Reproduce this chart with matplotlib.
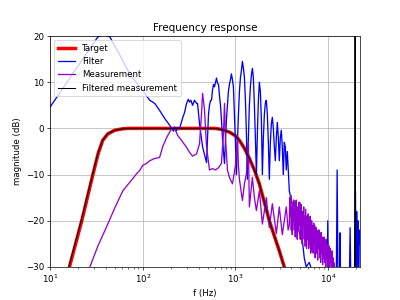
import matplotlib
matplotlib.use("Agg")
from matplotlib import pyplot as plt

# Target response
target_f = [10, 13, 16.2, 22, 29, 33, 37, 42, 50, 60, 70, 600, 700, 861, 1000, 1104,
            1250, 1413, 1600, 1811, 2050, 2321, 2650, 2973, 3365, 4000, 5000, 10000, 22050]
target_db = [-55, -43, -30, -20, -10, -5.5, -2.6, -1.2, -0.4, -0.1, 0, 0, -0.2, -0.8, -1.6, -2.6,
             -4.3, -6.5, -9, -12, -16, -20, -23.5, -26.5, -30, -36, -44, -70, -100]

# Filter
filter_f = [10, 32.8, 38, 44.2, 50, 56.6, 67, 78, 93, 100,
            110, 119, 135, 152, 172, 195, 205, 215, 221, 232,
            238, 250, 269, 283, 297, 310, 320, 330, 345, 362,
            381, 390, 410, 442, 488, 500, 512, 525, 538, 552,
            566, 580, 594, 610, 625, 640, 657, 673, 690, 706,
            724, 743, 762, 780, 800, 820, 840, 861, 883, 905,
            929, 951, 975, 1000, 1025, 1051, 1077, 1104, 1132, 1160,
            1189, 1220, 1250, 1282, 1313, 1346, 1380, 1413, 1450, 1486,
            1523, 1561, 1601, 1641, 1683, 1725, 1768, 1811, 1857, 1904,
            1952, 2001, 2051, 2103, 2155, 2209, 2265, 2321, 2380, 2439,
            2500, 2563, 2627, 2693, 2761, 2830, 2901, 2973, 3048, 3124,
            3202, 3282, 3365, 3450, 3535, 3624, 3715, 3808, 3950, 4101,
            4310, 4529, 4878, 5253, 5520, 5800, 6250, 6730, 7248, 8003,
            9056, 9752, 9900, 10100, 12190, 12500, 12810, 13300, 13460, 13650,
            16820, 17250, 17680, 19040, 19700, 20010, 20300, 20600, 21000, 21300,
            21700, 22050]
filter_db = [4.6, 19.8, 20.3, 19.8, 17.8, 15.9, 13, 11, 8.9, 8.3,
             7, 6.1, 5.4, 3.9, 2.2, 0.7, 0, -0.6, 0.3, -0.5,
             0.2, 0, 2.2, 3.5, 5.4, 6.3, 5.7, 6.1, 5, 6.1,
             5.4, 5.4, 1, -4, -7.4, -2, 3, 5, 6, 6.1,
             8.3, 9.5, 9, 10, 10.9, 9.8, 9.5, 7, 5, 2,
             -2, -5, -7.6, -3, 2, 5, 8, 9.5, 10.5, 11.8,
             10.5, 9, 3, -3, -10, -3, 3, 8, 11, 12.5,
             14.5, 13, 11, 6, -1, -11, -2, 5, 9, 11.5,
             13, 11, 5, -2, -10, -1, 6, 10, 8, 2,
             -10, -2, 3, 5.5, 6.1, 3, -3, -11, -3, 1,
             2.4, 0, -4, -7, -2, 1.3, -2, -7, -2, -0.4,
             -4, -10, -3, -4, -9, -5, -9, -13.5, -15, -16.3,
             -18, -19.3, -22.5, -24, -28, -30, -29, -31, -35, -35,
             -38, -38, -20, -38, -38, -9, -38, -38, -22.6, -38,
             -38, -21.5, -38, -38, -13.5, -38, -18, -38, -20, -38,
             -22, -25]

# Measurement
meas_f = [10, 21, 26.9, 32.8, 42, 50, 61, 75, 86, 93,
          100, 110, 119, 135, 152, 164, 181, 205, 221, 238,
          262, 297, 320, 345, 381, 410, 431, 442, 464, 488,
          525, 566, 610, 657, 706, 743, 762, 780, 820, 861,
          929, 1000, 1051, 1077, 1104, 1189, 1250, 1313, 1380, 1413,
          1523, 1601, 1683, 1811, 1952, 2155, 2321, 2500, 2761, 2973,
          3202, 3535, 3700,
          3808, 3855, 3903, 3952, 4001, 4051, 4101, 4152, 4204, 4256,
          4309, 4363, 4417, 4472, 4528, 4584, 4641, 4699, 4757, 4816,
          4876, 4937, 4998, 5060, 5123, 5187, 5252, 5317, 5383, 5450,
          5518, 5587, 5656, 5727, 5798, 5870, 5943, 6017, 6092, 6168,
          6244, 6322, 6401, 6480, 6561, 6642, 6725, 6809, 6893, 6979,
          7066, 7154, 7243, 7333, 7424, 7516, 7610, 7704, 7800, 7897,
          7996, 8095, 8196, 8298, 8401, 8506, 8611, 8718, 8827, 8937,
          9048, 9161, 9275, 9390, 9507, 9625, 9745, 9866, 9989, 10113,
          10239, 10366, 10495, 10626, 10758, 10892, 11027, 11164, 11303, 11444,
          11586, 12190, 13130, 16820, 22050]
meas_db = [-50, -35, -30, -25.5, -20.7, -17.2, -13.5, -11.3, -9.8, -9.1,
           -8, -7.6, -7, -6.5, -6.3, -4, -2, 0, 0, -1.5,
           -2.6, -4.1, -5.2, -6, -5.5, -3.3, 3.3, 7.6, 4, -4,
           -9, -8.7, -9, -8.5, -7.6, -1, 5.4, -2, -9, -10.6,
           -12, -8, -1.5, -8, -11, -15.6, -12, -9.8, -3, -17,
           -10.6, -15, -17.8, -13.5, -20.7, -15, -21.5, -16.3, -22.8, -17,
           -23, -17, -22,
           -21, -15, -19, -14.5, -22, -17, -23, -16, -20, -15.5,
           -22, -16, -23.5, -18, -15.5, -21, -24, -17, -22, -16,
           -21, -16, -24, -19, -16.5, -23, -25, -18, -21, -17,
           -24, -19, -25.5, -17.5, -22, -26, -19, -24, -18.5, -26,
           -20, -25, -19, -27, -22, -20, -26.5, -21, -27, -20.5,
           -25, -21, -28, -23, -21.5, -27, -24, -28.5, -22, -26,
           -22, -28, -24, -29, -22.5, -27, -23.5, -29.5, -25, -28,
           -23.5, -29, -25, -30.5, -24, -28, -26, -31, -25, -29.5,
           -25.5, -30.5, -26, -29, -27, -31.5, -26.5, -30, -28, -32,
           -29, -33, -36, -40, -42]

# Filtered measurement
filt_meas_f = [10, 13, 16.2, 22, 29, 33, 37, 42, 50, 60, 70, 600, 700, 861, 1000, 1104,
               1250, 1413, 1600, 1811, 2050, 2321, 2650, 2973, 3365, 4000, 5000, 10000,
               19400, 19520, 19650, 22050]
filt_meas_db = [-54, -42, -29.5, -19.5, -9.7, -5.3, -2.5, -1.1, -0.4, -0.1, 0, 0, -0.2, -0.8,
                -1.6, -2.6, -4.3, -6.5, -9, -12, -16, -20, -23.5, -26.5, -30, -36, -44, -60,
                -70, 60, -70, -75]

plt.figure(figsize=(6.4, 4.8), dpi=62.5)
plt.semilogx(target_f, target_db, color="red", lw=4, label="Target")
plt.semilogx(filter_f, filter_db, color="blue", lw=1.5, label="Filter")
plt.semilogx(meas_f, meas_db, color="darkviolet", lw=1.5, label="Measurement")
plt.semilogx(filt_meas_f, filt_meas_db, color="black", lw=1.2, label="Filtered measurement")
plt.xlim(10, 22050)
plt.ylim(-30, 20)
plt.xlabel("f (Hz)")
plt.ylabel("magnitude (dB)")
plt.title("Frequency response")
plt.grid()
plt.legend(loc="upper left")
plt.savefig("out.png", dpi=62.5)
